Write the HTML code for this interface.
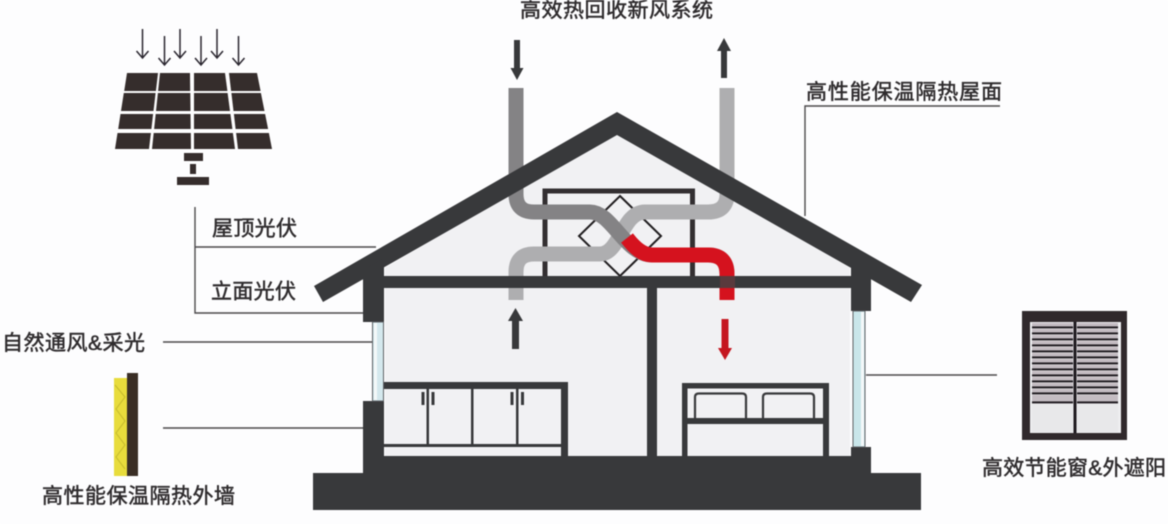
<!DOCTYPE html>
<html lang="zh">
<head>
<meta charset="utf-8">
<title>Diagram</title>
<style>
html,body{margin:0;padding:0;background:#fdfdfe;width:1168px;height:524px;overflow:hidden}
svg{display:block;filter:blur(.5px)}
text{font-family:"Liberation Sans","Noto Sans CJK SC",sans-serif;font-size:21px;fill:#2f2c2e;stroke:#2f2c2e;stroke-width:.5px}
</style>
</head>
<body>
<svg width="1168" height="524" viewBox="0 0 1168 524" xmlns="http://www.w3.org/2000/svg">
<defs>
<g id="louver"><rect x="0" y="0" width="41" height="3.4" fill="#c4bcc2"/><rect x="0" y="3.400" width="41" height="2" fill="#1f1a20"/></g>
</defs>
<rect width="1168" height="524" fill="#fdfdfe"/>

<!-- interior -->
<polygon points="617,130 850,268 850,460 385,460 385,268" fill="#f1f1f3"/>

<!-- leader lines -->
<g stroke="#4c4a4c" stroke-width="1.4" fill="none">
<path d="M195 207V313H364M195 247H376"/>
<path d="M805 216V106H1000"/>
<path d="M163 342H372M163 428H363M866 375H997"/>
</g>

<!-- HRV box and diamond -->
<path d="M545 277V191H692.500V277" fill="none" stroke="#332f31" stroke-width="5"/>
<polygon points="620,196 661,236 620,276 579,236" fill="#f1f1f3" stroke="#211e20" stroke-width="2"/>

<!-- ducts -->
<path d="M516 300V272Q516 254 534 254H600C620 254 622 212 645 212H708Q727 212 727 194V88" fill="none" stroke="#aeaeb0" stroke-width="15"/>
<path d="M516 88V194Q516 212 534 212H590C612 212 625 255 652 255H708Q727 255 727 274V300" fill="none" stroke="#848385" stroke-width="15"/>
<path d="M627 238C634 247 642 255 652 255H708Q727 255 727 274V300" fill="none" stroke="#d5121e" stroke-width="15"/>

<!-- roof -->
<polygon points="617,112 922,285 911,302 617,135 323,302 314,286" fill="#38393b"/>

<!-- structure -->
<rect x="383" y="276" width="469" height="12" fill="#38393b"/>
<polygon points="363,270 384,258 384,322 363,322" fill="#38393b"/>
<polygon points="851,258 871,270 871,311 851,311" fill="#38393b"/>
<rect x="363" y="401" width="21" height="72" fill="#38393b"/>
<rect x="851" y="447" width="20" height="28" fill="#38393b"/>
<rect x="647" y="288" width="10" height="170" fill="#38393b"/>
<rect x="363" y="456" width="508" height="20" fill="#38393b"/>
<rect x="313" y="473" width="608" height="37" fill="#38393b"/>
<rect x="720" y="276" width="15" height="12" fill="#5a3a3d"/>

<!-- windows -->
<rect x="372.500" y="322" width="11" height="79" fill="#d4e8ed" stroke="#5d6064" stroke-width="1"/>
<rect x="374" y="323" width="3" height="77" fill="#f4f8f9"/>
<rect x="853" y="311" width="12" height="136" fill="#c9e6ea" stroke="#5d6064" stroke-width="1"/>
<rect x="861" y="312" width="3" height="134" fill="#f4f8f9"/>

<!-- cabinets -->
<g fill="#38393b">
<rect x="384" y="382" width="184" height="7"/>
<rect x="561" y="382" width="7" height="76"/>
<rect x="384" y="444" width="178" height="3"/>
<rect x="426.500" y="389" width="2.500" height="56"/>
<rect x="471" y="389" width="2.500" height="56"/>
<rect x="516" y="389" width="2.500" height="56"/>
<rect x="421.500" y="392" width="3" height="13"/>
<rect x="431.500" y="392" width="3" height="13"/>
<rect x="510.500" y="392" width="3" height="13"/>
<rect x="521" y="392" width="3" height="13"/>
</g>

<!-- bed -->
<g fill="#38393b">
<rect x="682" y="383" width="147" height="5.500"/>
<rect x="682" y="383" width="5.500" height="75"/>
<rect x="823" y="383" width="6" height="75"/>
<rect x="686" y="418" width="138" height="6"/>
</g>
<path d="M695 418V397Q695 393.500 699 393.500H742Q746 393.500 746 397V418" fill="none" stroke="#38393b" stroke-width="2.200"/>
<path d="M763 418V397Q763 393.500 767 393.500H810Q814 393.500 814 397V418" fill="none" stroke="#38393b" stroke-width="2.200"/>

<!-- flow arrows -->
<g fill="#38393b">
<polygon points="514,40 520,40 520,68 523.500,68 517,80 510.500,68 514,68"/>
<polygon points="721,78 727,78 727,51 731,51 724,38 717,51 721,51"/>
<polygon points="512,349 519,349 519,321 523,321 515.500,308 508,321 512,321"/>
</g>
<polygon points="721.500,319 728.500,319 728.500,348 732,348 725,360 718,348 721.500,348" fill="#c5161f"/>

<!-- solar panel arrows -->
<g fill="none" stroke="#2b2730" stroke-width="1.500">
<path d="M142.500 29V58M136.500 51L142.500 58L148.500 51"/>
<path d="M164.500 36V65M158.500 58L164.500 65L170.500 58"/>
<path d="M180 29V58M174 51L180 58L186 51"/>
<path d="M201 36V65M195 58L201 65L207 58"/>
<path d="M217 29V58M211 51L217 58L223 51"/>
<path d="M238.500 36V65M232.500 58L238.500 65L244.500 58"/>
</g>

<!-- solar panel -->
<g fill="#352d2c">
<polygon points="127,73 158,73 155.900,91 124.200,91"/>
<polygon points="160,73 190,73 190.200,91 158.100,91"/>
<polygon points="194,73 225,73 227.400,91 194,91"/>
<polygon points="229,73 257,73 260.600,91 231.100,91"/>
<polygon points="123.800,93 155.600,93 153.500,111 121,111"/>
<polygon points="157.900,93 190.300,93 190.500,111 156,111"/>
<polygon points="194,93 227.600,93 230,111 194,111"/>
<polygon points="231.400,93 260.900,93 264.500,111 233.500,111"/>
<polygon points="120.500,114 153.100,114 151.400,129 118.200,129"/>
<polygon points="155.700,114 190.500,114 190.700,129 154.100,129"/>
<polygon points="194,114 230.400,114 232.400,129 194,129"/>
<polygon points="233.900,114 265.100,114 268.100,129 235.600,129"/>
<polygon points="117.500,133 150.900,133 149,149 115,149"/>
<polygon points="153.700,133 190.800,133 191,149 152,149"/>
<polygon points="194,133 232.900,133 235,149 194,149"/>
<polygon points="236.100,133 268.900,133 272,149 238,149"/>
<rect x="184" y="153" width="19" height="8"/>
<rect x="190" y="164" width="6" height="10"/>
<rect x="177" y="177" width="32" height="8"/>
</g>

<!-- wall sample -->
<rect x="114" y="378" width="13" height="98" fill="#e8dc3c"/>
<path d="M115 385L125 397L116 409L125 421L116 433L125 445L116 457L125 469" fill="none" stroke="#c4b92c" stroke-width="1"/>
<rect x="127" y="373" width="11" height="103" fill="#3a2e25"/>

<!-- shutter -->
<rect x="1022" y="311" width="105" height="129" fill="#30292c"/>
<rect x="1030" y="322" width="91" height="111" fill="#eeeef0"/>
<rect x="1073.500" y="322" width="3" height="111" fill="#1f1a20"/>
<rect x="1032" y="403" width="41" height="29" fill="#e8e8ea"/>
<rect x="1077" y="403" width="41" height="29" fill="#e8e8ea"/>
<g>
<use href="#louver" x="1032" y="323"/><use href="#louver" x="1077" y="323"/>
<use href="#louver" x="1032" y="329"/><use href="#louver" x="1077" y="329"/>
<use href="#louver" x="1032" y="335"/><use href="#louver" x="1077" y="335"/>
<use href="#louver" x="1032" y="341"/><use href="#louver" x="1077" y="341"/>
<use href="#louver" x="1032" y="347"/><use href="#louver" x="1077" y="347"/>
<use href="#louver" x="1032" y="353"/><use href="#louver" x="1077" y="353"/>
<use href="#louver" x="1032" y="359"/><use href="#louver" x="1077" y="359"/>
<use href="#louver" x="1032" y="365"/><use href="#louver" x="1077" y="365"/>
<use href="#louver" x="1032" y="371"/><use href="#louver" x="1077" y="371"/>
<use href="#louver" x="1032" y="377"/><use href="#louver" x="1077" y="377"/>
<use href="#louver" x="1032" y="383"/><use href="#louver" x="1077" y="383"/>
<use href="#louver" x="1032" y="389"/><use href="#louver" x="1077" y="389"/>
<use href="#louver" x="1032" y="395"/><use href="#louver" x="1077" y="395"/>
<use href="#louver" x="1032" y="398"/><use href="#louver" x="1077" y="398"/>
</g>

<!-- labels -->
<text x="520" y="17" textLength="193" lengthAdjust="spacing">高效热回收新风系统</text>
<text x="806" y="99" textLength="196" lengthAdjust="spacing">高性能保温隔热屋面</text>
<text x="212" y="235.500" textLength="85" lengthAdjust="spacing">屋顶光伏</text>
<text x="211" y="298.500" textLength="85" lengthAdjust="spacing">立面光伏</text>
<text x="2" y="350" textLength="143" lengthAdjust="spacing">自然通风&amp;采光</text>
<text x="42" y="503" textLength="193" lengthAdjust="spacing">高性能保温隔热外墙</text>
<text x="982" y="475" textLength="184" lengthAdjust="spacing">高效节能窗&amp;外遮阳</text>
</svg>
</body>
</html>
